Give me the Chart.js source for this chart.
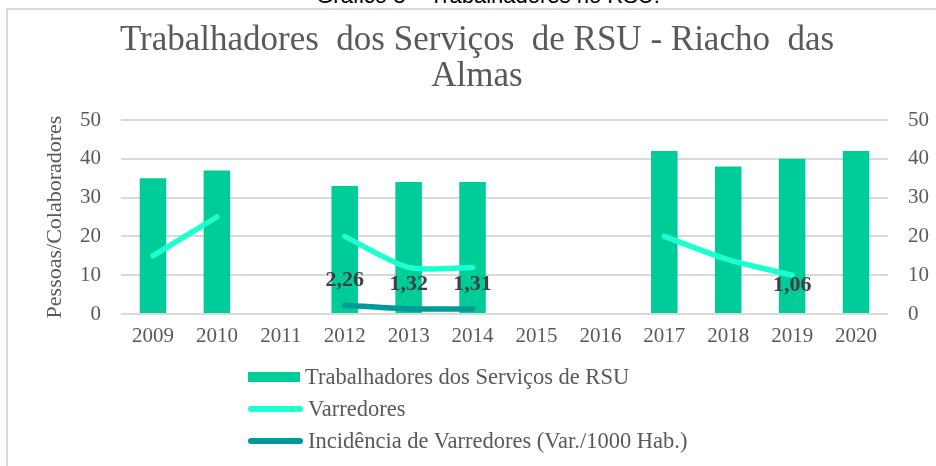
<!DOCTYPE html>
<html>
<head>
<meta charset="utf-8">
<script src="https://cdn.jsdelivr.net/npm/chart.js@4.4.1/dist/chart.umd.min.js"></script>
<style>
  html, body { margin: 0; padding: 0; background: #ffffff; }
  body { width: 936px; height: 466px; position: relative; overflow: hidden; }
  #caption { position: absolute; left: 20px; width: 936px; top: -15px; text-align: center;
    font-family: "Liberation Sans", Arial, sans-serif; font-size: 22px; line-height: 22px; color: #000; }
  #frame { position: absolute; left: 6px; top: 8px; width: 940px; height: 470px;
    border: 2px solid #d9d9d9; box-sizing: border-box; }
  #wrap { position: absolute; left: 0; top: 0; width: 936px; height: 466px; }
  #legend { position: absolute; left: 248px; top: 361px; font-family: "Liberation Serif", "Times New Roman", serif;
    font-size: 22.5px; color: #595959; }
  .item { height: 32px; display: flex; align-items: center; white-space: nowrap; }
  .sw { display: inline-block; margin-right: 5px; }
</style>
</head>
<body>
<div id="caption">Gráfico 8 – Trabalhadores no RSU.</div>
<div id="frame"></div>
<div id="wrap"><canvas id="c" width="936" height="466"></canvas></div>
<div id="legend"></div>
<script>
const categories = ['2009','2010','2011','2012','2013','2014','2015','2016','2017','2018','2019','2020'];
const trabalhadores = [35, 37, null, 33, 34, 34, null, null, 42, 38, 40, 42];
const varredores = [15, 25, null, 20, 12, 12, null, null, 20, 14, 10, null];
const incidencia = [null, null, null, 2.26, 1.32, 1.31, null, null, null, null, 1.06, null];
const yTicks = [0, 10, 20, 30, 40, 50];
const seriesNames = ['Trabalhadores dos Serviços de RSU', 'Varredores', 'Incidência de Varredores (Var./1000 Hab.)'];
const titleLines = ['Trabalhadores  dos Serviços  de RSU - Riacho  das', 'Almas'];
const yTitle = 'Pessoas/Colaboradores';

const serif = '"Liberation Serif", "Times New Roman", serif';
const gray = '#595959';

const labelPlugin = {
  id: 'pointLabels',
  afterLayout(chart) {
    // the reference title is centred slightly right of the canvas centre
    if (chart.titleBlock) { chart.titleBlock.left += 18; }
  },
  afterDatasetsDraw(chart) {
    const ctx = chart.ctx;
    const meta = chart.getDatasetMeta(2);
    ctx.save();
    ctx.font = 'bold 22px ' + serif;
    ctx.fillStyle = '#404040';
    ctx.textAlign = 'center';
    ctx.textBaseline = 'middle';
    meta.data.forEach((pt, i) => {
      const v = incidencia[i];
      if (v === null || v === undefined) return;
      ctx.fillText(v.toFixed(2).replace('.', ','), pt.x, pt.y - 24.5);
    });
    ctx.restore();
  }
};

const chart = new Chart(document.getElementById('c'), {
  type: 'bar',
  data: {
    labels: categories,
    datasets: [
      { type: 'bar', label: seriesNames[0], data: trabalhadores, backgroundColor: '#00CC99',
        borderWidth: 0, barPercentage: 0.415, categoryPercentage: 1, yAxisID: 'y', order: 3 },
      { type: 'line', label: seriesNames[1], data: varredores, borderColor: '#1CFFCF', backgroundColor: '#1CFFCF',
        borderWidth: 5.5, pointRadius: 0, tension: 0.25, borderCapStyle: 'round', borderJoinStyle: 'round',
        spanGaps: false, yAxisID: 'y', order: 2 },
      { type: 'line', label: seriesNames[2], data: incidencia, borderColor: '#009999', backgroundColor: '#009999',
        borderWidth: 5.5, pointRadius: 0, tension: 0.25, borderCapStyle: 'round', borderJoinStyle: 'round',
        spanGaps: false, yAxisID: 'y1', order: 1 }
    ]
  },
  options: {
    responsive: false,
    animation: false,
    layout: { padding: { left: 0, right: 0, top: 0, bottom: 122 } },
    plugins: {
      legend: { display: false },
      tooltip: { enabled: false },
      title: {
        display: true, text: titleLines, color: gray,
        font: { family: serif, size: 35, weight: 'normal', lineHeight: 1.03 },
        padding: { top: 23, bottom: 24.9 }
      }
    },
    scales: {
      x: {
        grid: { display: false, drawTicks: false },
        border: { display: false },
        ticks: { color: gray, font: { family: serif, size: 21 }, padding: 10, maxRotation: 0, autoSkip: false },
        afterFit(s) { s.height = 30; }
      },
      y: {
        position: 'left', min: yTicks[0], max: yTicks[yTicks.length - 1],
        grid: { color: '#d9d9d9', lineWidth: 2, drawTicks: false },
        border: { display: false },
        ticks: { color: gray, font: { family: serif, size: 21 }, padding: 20, stepSize: yTicks[1] - yTicks[0] },
        title: { display: true, text: yTitle, color: gray, font: { family: serif, size: 22 }, padding: { top: 42, bottom: 0 } },
        afterFit(s) { s.width = 121; }
      },
      y1: {
        position: 'right', min: yTicks[0], max: yTicks[yTicks.length - 1],
        grid: { display: false, drawTicks: false },
        border: { display: false },
        ticks: { color: gray, font: { family: serif, size: 21 }, padding: 20, stepSize: yTicks[1] - yTicks[0] },
        afterFit(s) { s.width = 48; }
      }
    }
  },
  plugins: [labelPlugin]
});

// HTML legend built from the chart's datasets
const legend = document.getElementById('legend');
chart.data.datasets.forEach((ds) => {
  const row = document.createElement('div');
  row.className = 'item';
  const sw = document.createElement('span');
  sw.className = 'sw';
  if (ds.type === 'bar') {
    sw.style.width = '52px'; sw.style.height = '10px'; sw.style.background = ds.backgroundColor;
  } else {
    sw.style.width = '55px'; sw.style.height = '6px'; sw.style.borderRadius = '3px'; sw.style.background = ds.borderColor;
  }
  row.appendChild(sw);
  row.appendChild(document.createTextNode(ds.label));
  legend.appendChild(row);
});
</script>
</body>
</html>
